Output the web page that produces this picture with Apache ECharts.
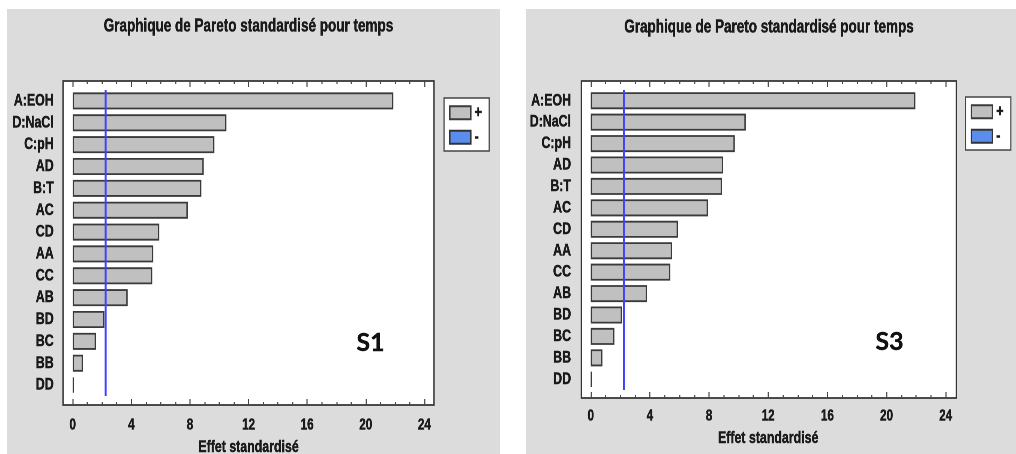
<!DOCTYPE html>
<html>
<head>
<meta charset="utf-8">
<script src="https://cdn.jsdelivr.net/npm/echarts@6/dist/echarts.min.js"></script>
<style>
  html, body { margin: 0; padding: 0; background: #fff; width: 1016px; height: 454px; overflow: hidden; }
  .panel { position: absolute; top: 9px; height: 445px; transform-origin: 0 0; }
</style>
</head>
<body>
<div id="s1" class="panel"></div>
<div id="s3" class="panel"></div>
<script>
// Factors of the design, in Pareto order (largest effect first)
const factors = ['A:EOH', 'D:NaCl', 'C:pH', 'AD', 'B:T', 'AC', 'CD', 'AA', 'CC', 'AB', 'BD', 'BC', 'BB', 'DD'];

// Standardized effects for each solvent system
const effectsS1 = [21.88, 10.49, 9.67, 8.94, 8.78, 7.85, 5.91, 5.50, 5.43, 3.75, 2.16, 1.59, 0.70, 0.08];
const effectsS3 = [21.95, 10.48, 9.74, 8.95, 8.88, 7.93, 5.90, 5.50, 5.38, 3.81, 2.12, 1.60, 0.79, 0.08];

// No factor has a negative effect
const negativeEffects = [];

// Significance threshold (t critical value)
const criticalT = 2.23;

// Tick labels of the effect axis
const effectTicks = [0, 4, 8, 12, 16, 20, 24];

const titleText = 'Graphique de Pareto standardisé pour temps';
const axisTitle = 'Effet standardisé';

// The panels are drawn wide and squeezed horizontally so that the
// Liberation Sans Bold lettering takes a tall, narrow shape.
const K = 0.75;
const FONT = "'Liberation Sans', Arial, sans-serif";
const INK = '#1a1a1a';

function boldText(size) {
  return { fontFamily: FONT, fontWeight: 'bold', fontSize: size, color: INK,
           textBorderColor: INK, textBorderWidth: 0.5 };
}

function paretoOption(effects, tag, L) {
  const X = v => v / K;
  const tMin = effectTicks[0];
  const tMax = effectTicks[effectTicks.length - 1];
  const step = effectTicks[1] - effectTicks[0];
  const scaleW = X(L.x24 - L.x0);
  const tickLine = { color: '#444', width: 1.5 };

  return {
    backgroundColor: '#dcdcdc',
    animation: false,
    title: {
      text: titleText, left: X(L.titleX), top: L.titleY, textAlign: 'center', padding: 0,
      textStyle: boldText(18)
    },
    graphic: [{
      type: 'text', x: X(L.tagX), y: L.tagY, scaleX: 1 / K, silent: true,
      style: { text: tag, align: 'center', verticalAlign: 'middle',
               fontFamily: 'Lato, sans-serif', fontWeight: 'bold', fontSize: 25, fill: '#111',
               stroke: '#111', lineWidth: 0.4 }
    }],
    legend: {
      data: ['+', '-'],
      orient: 'vertical',
      left: X(L.legX), top: L.legY,
      padding: [6, X(7), 5, X(5)],
      itemGap: 7, itemWidth: X(21), itemHeight: 13,
      icon: 'rect',
      selectedMode: false,
      backgroundColor: '#fff',
      borderColor: '#444', borderWidth: 1.5,
      textStyle: Object.assign(boldText(17), { lineHeight: 13 })
    },
    grid: [
      // outer plot frame
      { left: X(L.frameLeft), top: L.frameTop, width: X(L.frameW), height: L.frameH,
        show: true, backgroundColor: '#fff', borderColor: '#333', borderWidth: 1.7,
        outerBoundsMode: 'none' },
      // tick rows along the frame
      { left: X(L.x0), top: L.frameTop, width: scaleW, height: L.frameH, outerBoundsMode: 'none' },
      // bars
      { left: X(L.x0), top: L.bandTop, width: scaleW, height: L.bandH, outerBoundsMode: 'none' }
    ],
    xAxis: [
      { gridIndex: 0, type: 'value', show: false },
      {
        gridIndex: 1, type: 'value', position: 'bottom', min: tMin, max: tMax, interval: step,
        axisLine: { show: false, onZero: false },
        axisTick: { show: true, inside: true, length: 6, lineStyle: tickLine },
        minorTick: { show: true, splitNumber: 4, length: 3, lineStyle: tickLine },
        splitLine: { show: false },
        axisLabel: Object.assign({ margin: L.tickMargin }, boldText(15.5)),
        name: axisTitle, nameLocation: 'middle', nameGap: L.nameGap,
        nameTextStyle: boldText(16.5)
      },
      {
        gridIndex: 1, type: 'value', position: 'top', min: tMin, max: tMax, interval: step,
        axisLine: { show: false, onZero: false },
        axisTick: { show: true, inside: true, length: 6, lineStyle: tickLine },
        minorTick: { show: true, splitNumber: 4, length: 3, lineStyle: tickLine },
        splitLine: { show: false },
        axisLabel: { show: false }
      },
      { gridIndex: 2, type: 'value', min: tMin, max: tMax, show: false, splitLine: { show: false } }
    ],
    yAxis: [
      { gridIndex: 0, type: 'value', show: false },
      { gridIndex: 1, type: 'value', show: false },
      {
        gridIndex: 2, type: 'category', inverse: true, data: factors,
        axisLine: { show: false }, axisTick: { show: false }, splitLine: { show: false },
        axisLabel: Object.assign({ margin: X(L.catMargin), interval: 0 }, boldText(16.5))
      }
    ],
    series: [
      {
        name: '+', type: 'bar', xAxisIndex: 3, yAxisIndex: 2,
        data: effects, barWidth: 17, barGap: '-100%',
        itemStyle: { color: '#c0c0c0', borderColor: '#3a3a3a', borderWidth: 1.8 },
        markLine: {
          silent: true, symbol: 'none', label: { show: false },
          lineStyle: { color: '#4040ff', width: 2.6, type: 'solid', opacity: 1 },
          emphasis: { disabled: true },
          data: [{ xAxis: criticalT }]
        }
      },
      {
        name: '-', type: 'bar', xAxisIndex: 3, yAxisIndex: 2,
        data: negativeEffects, barWidth: 17, barGap: '-100%',
        itemStyle: { color: '#5b8def', borderColor: '#333', borderWidth: 1.2 }
      }
    ]
  };
}

function mountPanel(id, left, width, effects, tag, layout) {
  const el = document.getElementById(id);
  el.style.left = left + 'px';
  el.style.width = (width / K) + 'px';
  el.style.transform = 'scaleX(' + K + ')';
  const chart = echarts.init(el, null, { devicePixelRatio: 2 });
  chart.setOption(paretoOption(effects, tag, layout));
  return chart;
}

mountPanel('s1', 7, 493, effectsS1, 'S1', {
  frameLeft: 56, frameTop: 72, frameW: 371, frameH: 324,
  x0: 65.7, x24: 417.4, bandTop: 81, bandH: 306,
  catMargin: 19, tickMargin: 12, nameGap: 34,
  titleX: 241.5, titleY: 8.5, tagX: 363.5, tagY: 334,
  legX: 437, legY: 89
});

mountPanel('s3', 526, 490, effectsS3, 'S3', {
  frameLeft: 55.3, frameTop: 72, frameW: 375, frameH: 317,
  x0: 64.7, x24: 419.7, bandTop: 81, bandH: 300,
  catMargin: 19.7, tickMargin: 10, nameGap: 32,
  titleX: 243, titleY: 9.5, tagX: 363.5, tagY: 333,
  legX: 439.7, legY: 88
});
</script>
</body>
</html>
